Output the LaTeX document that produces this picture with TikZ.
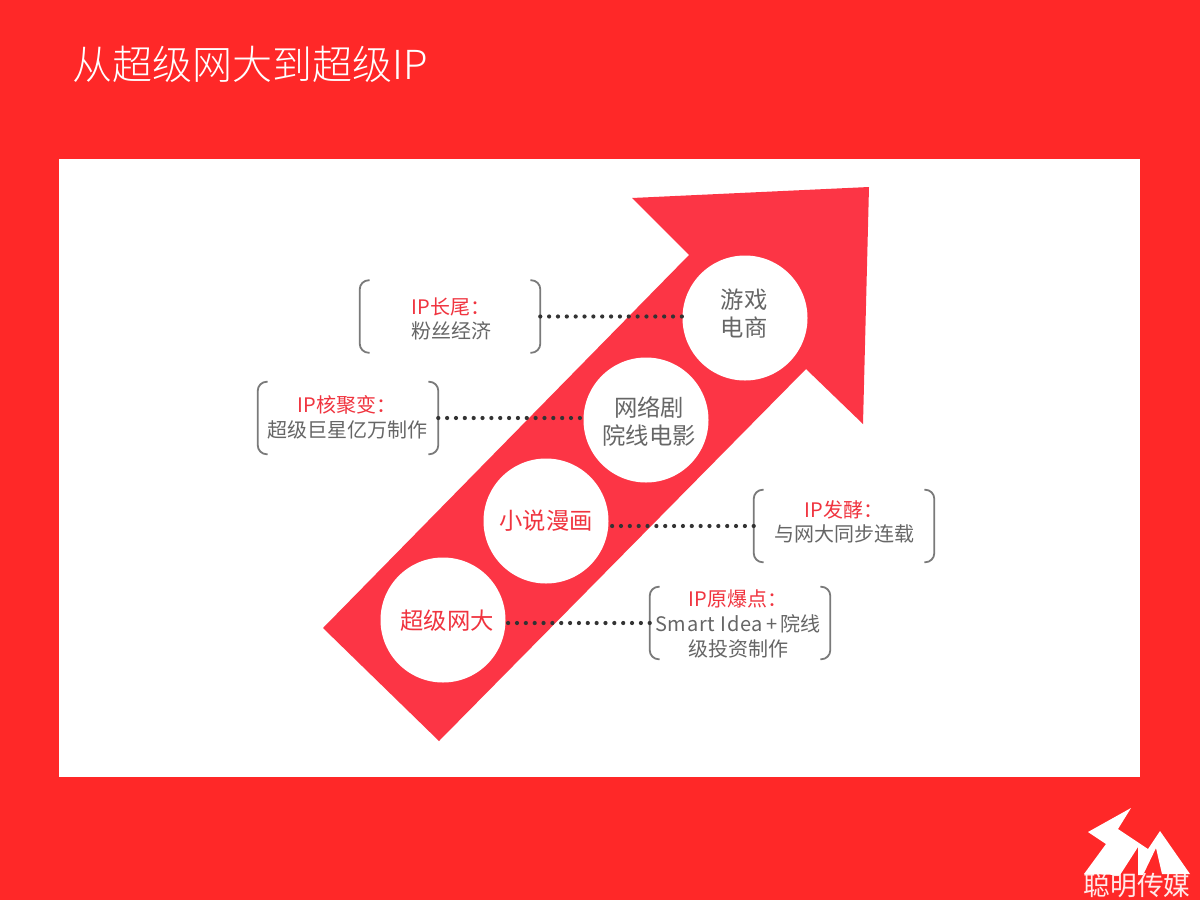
\documentclass[tikz,border=0pt]{standalone}
\usepackage{fontspec}
\setmainfont{Noto Sans CJK SC}[UprightFont=* Light,BoldFont=* Bold]
\newfontfamily\regfont{Noto Sans CJK SC}
\definecolor{bgred}{HTML}{FF2828}
\definecolor{arrowred}{HTML}{FC3545}
\definecolor{txtred}{HTML}{F0343F}
\definecolor{txtgray}{HTML}{666666}
\definecolor{brk}{HTML}{7A7A7A}
\newcommand{\lab}[2]{\textcolor{txtred}{#1}\\\textcolor{txtgray}{#2}}
\newlength{\pxlen}\setlength{\pxlen}{0.75pt}
\def\pxu{\pxlen}
\tikzset{
  disc/.style={circle,fill=white,minimum size=125\pxu,inner sep=0pt,align=center,font=\regfont\fontsize{17.5}{21}\selectfont},
  brackbox/.style={minimum width=180\pxu,minimum height=72\pxu,inner sep=0pt,align=center,font=\regfont\fontsize{15}{18.5}\selectfont},
  txtbox/.style={inner sep=0pt,align=center,font=\regfont\fontsize{15}{18.5}\selectfont},
  dotline/.style={line width=4.2\pxu,line cap=round,dash pattern=on 0pt off 8.85\pxu,color=black!80,yshift=-0.75pt},
  brace/.style={line width=1.8\pxu,color=brk,rounded corners=9\pxu},
}
\newcommand{\brackets}[1]{%
  \draw[brace] ([xshift=10\pxu]#1.north west) -- (#1.north west) -- (#1.south west) -- ([xshift=10\pxu]#1.south west);
  \draw[brace] ([xshift=-10\pxu]#1.north east) -- (#1.north east) -- (#1.south east) -- ([xshift=-10\pxu]#1.south east);}
\begin{document}
\begin{tikzpicture}[x=0.75pt,y=-0.75pt]
\useasboundingbox (0,0) rectangle (1200,900);
\fill[bgred] (0,0) rectangle (1200,900);
\fill[white] (59,159) rectangle (1140,777);
\node[anchor=west,inner sep=0pt,text=white,font=\fontsize{30}{36}\selectfont] (title) at (72,64) {从超级网大到超级IP};
\fill[arrowred] (869,187) -- (632,198) -- (689,255) -- (323,628) -- (439,741) -- (806,369) -- (863,424) -- cycle;
\node[disc] (c1) at (745,318) {};
\node[disc] (c2) at (646,420) {};
\node[disc] (c3) at (546,521) {};
\node[disc] (c4) at (443,620) {};
\node[brackbox] (b1) at (450,316.5) {};
\node[brackbox] (b2) at (348,418) {};
\node[brackbox] (b3) at (844,526) {};
\node[brackbox] (b4) at (740,623) {};
\node[disc,fill=none,text=txtgray] (t1) at (744,314) {游戏\\电商};
\node[disc,fill=none,text=txtgray] (t2) at (649,421) {网络剧\\院线电影};
\node[disc,fill=none,text=txtred] (t3) at (546,521) {小说漫画};
\node[disc,fill=none,text=txtred] (t4) at (447,621) {超级网大};
\node[txtbox] (l1) at (451,319) {\lab{IP长尾：}{粉丝经济}};
\node[txtbox] (l2) at (347,417) {\lab{IP核聚变：}{超级巨星亿万制作}};
\node[txtbox] (l3) at (844,522) {\lab{IP发酵：}{与网大同步连载}};
\node[txtbox] (l4) at (738,624) {\textcolor{txtred}{IP原爆点：}\\\textcolor{txtgray}{{\addfontfeature{LetterSpace=4}Smart Idea}\,+\,院线}\\\textcolor{txtgray}{级投资制作}};
\brackets{b1}\brackets{b2}\brackets{b3}\brackets{b4}
\draw[dotline] (b1.east) -- (b1.east -| c1.west);
\draw[dotline] (b2.east) -- (b2.east -| c2.west);
\draw[dotline] (b3.west) -- (b3.west -| c3.east);
\draw[dotline] (b4.west) -- (b4.west -| c4.east);
\fill[white] (1131,808) -- (1088,832) -- (1106,844) -- (1084,874) -- (1120,875) -- (1138,847) -- (1138,875) -- (1143,875) -- (1156,848) -- (1162,874) -- (1190,874) -- (1160,831) -- (1148,849) -- (1118,829) -- cycle;
\node[inner sep=0pt,text=white,opacity=0.9,font=\regfont\fontsize{20}{24}\selectfont] (logo) at (1137,885) {聪明传媒};
\end{tikzpicture}
\end{document}
